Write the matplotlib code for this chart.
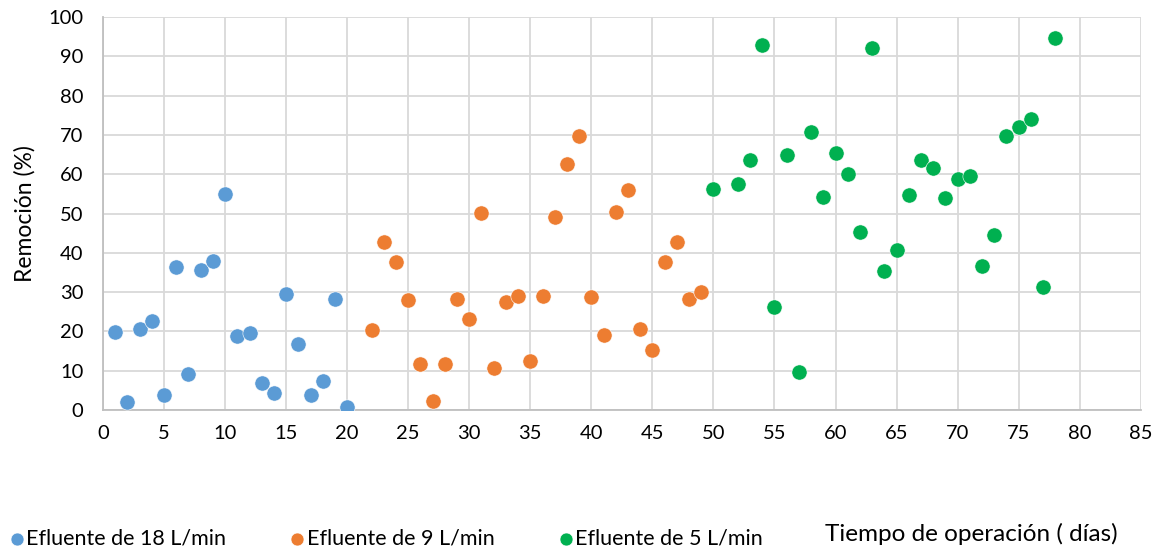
import numpy as np
import matplotlib.pyplot as plt

plt.rcParams['font.family'] = ['Lato', 'DejaVu Sans']

dias_18 = [1, 2, 3, 4, 5, 6, 7, 8, 9, 10, 11, 12, 13, 14, 15, 16, 17, 18, 19, 20]
rem_18 = [19.8, 2.1, 20.7, 22.7, 3.7, 36.5, 9.2, 35.6, 38.0, 55.0,
          18.8, 19.6, 6.9, 4.3, 29.5, 16.8, 3.8, 7.4, 28.2, 0.8]

dias_9 = [22, 23, 24, 25, 26, 27, 28, 29, 30, 31, 32, 33, 34, 35,
          36, 37, 38, 39, 40, 41, 42, 43, 44, 45, 46, 47, 48, 49]
rem_9 = [20.4, 42.8, 37.7, 28.0, 11.7, 2.4, 11.7, 28.3, 23.2, 50.2, 10.7, 27.4, 28.9, 12.6,
         29.0, 49.0, 62.5, 69.8, 28.8, 19.1, 50.5, 56.1, 20.6, 15.3, 37.7, 42.8, 28.3, 30.1]

dias_5 = [50, 52, 53, 54, 55, 56, 57, 58, 59, 60, 61, 62, 63, 64,
          65, 66, 67, 68, 69, 70, 71, 72, 73, 74, 75, 76, 77, 78]
rem_5 = [56.3, 57.4, 63.5, 92.8, 26.1, 64.8, 9.8, 70.7, 54.2, 65.4, 60.0, 45.4, 92.2, 35.5,
         40.7, 54.6, 63.5, 61.7, 54.0, 58.7, 59.5, 36.6, 44.5, 69.7, 72.0, 74.0, 31.3, 94.6]

fig = plt.figure(figsize=(11.64, 5.5), dpi=100)
ax = fig.add_axes([0.0885, 0.2545, 0.8915, 0.7145])

s1 = ax.scatter(dias_18, rem_18, s=120, color='#5B9BD5', edgecolors='white', linewidths=0.4, zorder=3, label='Efluente de 18 L/min')
s2 = ax.scatter(dias_9, rem_9, s=120, color='#ED7D31', edgecolors='white', linewidths=0.4, zorder=3, label='Efluente de 9 L/min')
s3 = ax.scatter(dias_5, rem_5, s=120, color='#00B050', edgecolors='white', linewidths=0.4, zorder=3, label='Efluente de 5 L/min')

ax.set_xlim(0, 85)
ax.set_ylim(0, 100)
ax.set_xticks(np.arange(0, 86, 5))
ax.set_yticks(np.arange(0, 101, 10))
ax.grid(True, color='#d9d9d9', linewidth=1.3)
ax.set_axisbelow(True)
ax.tick_params(length=0, labelsize=14.5)
ax.tick_params(axis='y', pad=14)
ax.tick_params(axis='x', pad=11)
for side in ['top', 'right']:
    ax.spines[side].set_visible(False)
for side in ['left', 'bottom']:
    ax.spines[side].set_color('#bfbfbf')
    ax.spines[side].set_linewidth(1.3)

ax.set_ylabel('Remoción (%)', fontsize=16.5, labelpad=9)

fig.text(0.709, 0.016, 'Tiempo de operación ( días)', fontsize=17.5)

fig.legend(handles=[s1, s2, s3], loc='lower left', bbox_to_anchor=(-0.008, -0.028),
           ncol=3, frameon=False, fontsize=15.5, handletextpad=0.05,
           handlelength=0.8, columnspacing=2.9, markerscale=0.85, borderpad=0.3)

plt.savefig('out.png', dpi=100)
